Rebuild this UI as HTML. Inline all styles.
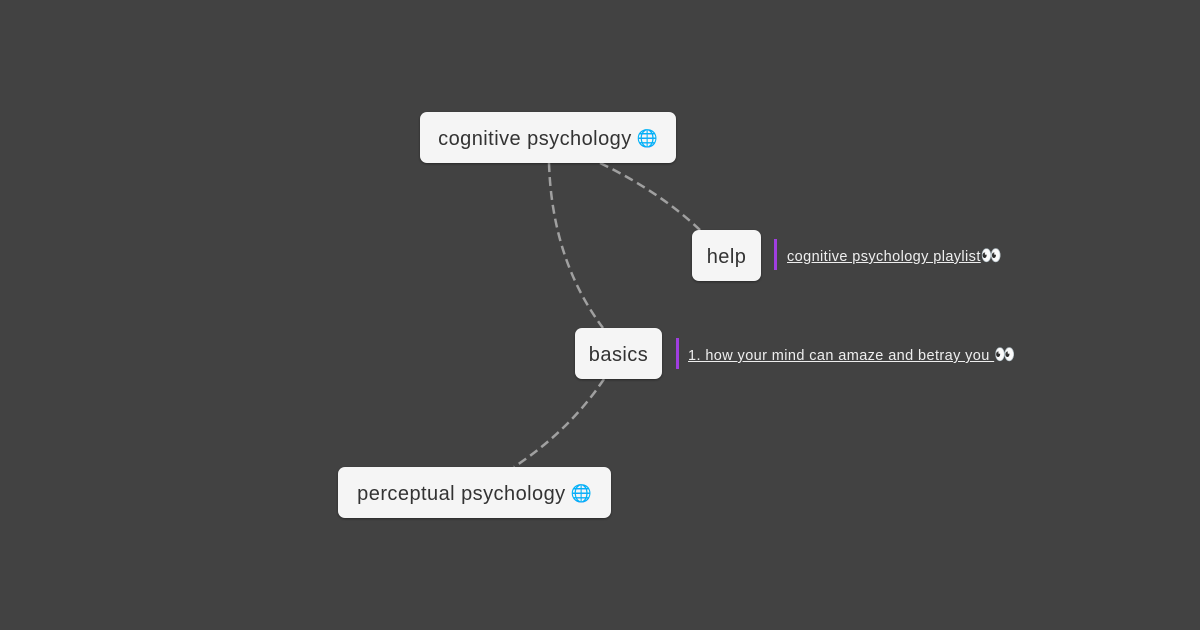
<!DOCTYPE html>
<html><head><meta charset="utf-8"><style>
body{margin:0;width:1200px;height:630px;background:#424242;position:relative;overflow:hidden;font-family:"Liberation Sans",sans-serif}
.n{position:absolute;background:#f5f5f5;border-radius:7px;color:#333;font-size:20px;letter-spacing:0.45px;box-sizing:border-box;display:flex;align-items:center;justify-content:center;padding-top:3px;box-shadow:0 1px 2px rgba(0,0,0,.4)}
.bar{position:absolute;width:3px;height:31px;background:#a03ee0}
.l{position:absolute;color:#eee;font-size:14.5px;letter-spacing:0.4px;white-space:nowrap}
.l u{text-decoration:underline}
.e{font-size:17px;letter-spacing:0}
.g{font-size:17px;margin-left:5px;color:#4aa3df;letter-spacing:0}
</style></head><body>
<svg width="1200" height="630" style="position:absolute;left:0;top:0">
<g fill="none" stroke="#a0a0a0" stroke-width="2.5" stroke-dasharray="9,5">
<path d="M549 163 Q552 260 603 328"/>
<path d="M600 163 Q660 192 700 230"/>
<path d="M604 379 Q570 430 514 467"/>
</g></svg>
<div class="n" style="left:420px;top:112px;width:256px;height:51px">cognitive psychology<span class="g">🌐</span></div>
<div class="n" style="left:692px;top:230px;width:69px;height:51px">help</div>
<div class="n" style="left:575px;top:328px;width:87px;height:51px">basics</div>
<div class="n" style="left:338px;top:467px;width:273px;height:51px">perceptual psychology<span class="g">🌐</span></div>
<div class="bar" style="left:774px;top:239px"></div>
<div class="l" style="left:787px;top:246px"><u>cognitive psychology playlist</u><span class="e">👀</span></div>
<div class="bar" style="left:676px;top:338px"></div>
<div class="l" style="left:688px;top:345px"><u>1. how your mind can amaze and betray you </u><span class="e">👀</span></div>
</body></html>
